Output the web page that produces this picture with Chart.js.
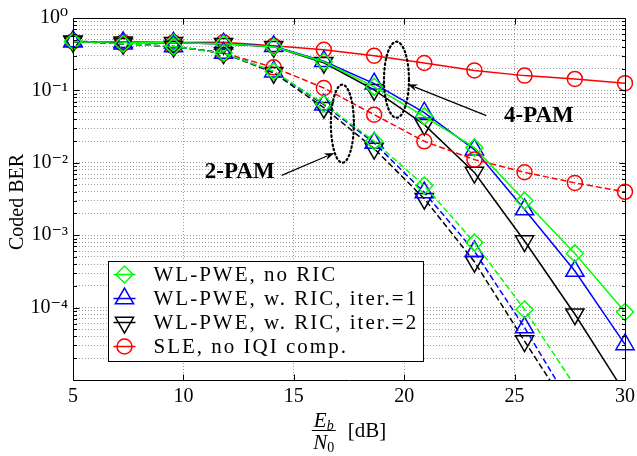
<!DOCTYPE html>
<html><head><meta charset="utf-8">
<script src="https://cdn.jsdelivr.net/npm/chart.js@4"></script>
<style>html,body{margin:0;padding:0;background:#fff}#wrap{width:637px;height:456px;position:relative}</style>
</head><body><div id="wrap"><canvas id="c"></canvas></div>
<script>
// ---- data ----
const ebn0 = [5, 7.27, 9.55, 11.82, 14.09, 16.36, 18.64, 20.91, 23.18, 25.45, 27.73, 30];
// 4-PAM (solid)
const pam4_noRIC = [0.474, 0.462, 0.455, 0.441, 0.401, 0.249, 0.112, 0.0438, 0.0162, 0.00300, 5.6e-4, 8.7e-5];
const pam4_RIC1  = [0.474, 0.462, 0.455, 0.441, 0.407, 0.253, 0.124, 0.0492, 0.0152, 0.00226, 3.2e-4, 3.1e-5];
const pam4_RIC2  = [0.474, 0.462, 0.455, 0.441, 0.401, 0.241, 0.102, 0.0336, 0.00733, 8.3e-4, 8.1e-5, 6.6e-6];
const pam4_SLE   = [0.474, 0.462, 0.459, 0.462, 0.414, 0.364, 0.301, 0.239, 0.189, 0.160, 0.144, 0.126];
// 2-PAM (dashed)
const pam2_noRIC = [0.474, 0.441, 0.405, 0.328, 0.183, 0.0655, 0.0198, 0.00485, 7.9e-4, 9.4e-5, 8.3e-6, null];
const pam2_RIC1  = [0.474, 0.441, 0.405, 0.328, 0.181, 0.0635, 0.0188, 0.00388, 6.0e-4, 5.3e-5, 3.7e-6, null];
const pam2_RIC2  = [0.474, 0.441, 0.405, 0.328, 0.175, 0.0577, 0.0157, 0.00320, 4.3e-4, 3.45e-5, 2.9e-6, null];
const pam2_SLE   = [0.474, 0.441, 0.405, 0.328, 0.208, 0.108, 0.0462, 0.0198, 0.01107, 0.0074, 0.00528, 0.00397];
const xTicks = [5, 10, 15, 20, 25, 30];
const yDecades = [1e-5, 1e-4, 1e-3, 1e-2, 1e-1, 1];
const yLabels = ['', '10\u207B\u2074', '10\u207B\u00B3', '10\u207B\u00B2', '10\u207B\u00B9', '10\u2070'];
const yTitle = 'Coded BER';
const legendLabels = ['WL-PWE, no RIC', 'WL-PWE, w. RIC, iter.=1', 'WL-PWE, w. RIC, iter.=2', 'SLE, no IQI comp.'];
const noteTexts = ['2-PAM', '4-PAM'];

// ---- styles ----
const SERIF = '"Liberation Serif", "DejaVu Serif", serif';
const GREEN = '#00ff00', BLUE = '#0000ff', BLACK = '#000000', RED = '#ff0000';
const YMIN = 1e-5, YMAX = 1;
const markers = [
  {style: 'rectRot', rot: 0, r: 8.5, color: GREEN},
  {style: 'triangle', rot: 0, r: 10.5, color: BLUE},
  {style: 'triangle', rot: 180, r: 10.5, color: BLACK},
  {style: 'circle', rot: 0, r: 7.5, color: RED}
];
function ds(values, m, dashed) {
  const rad = c => (c.raw && c.raw.y !== null && c.raw.y < YMIN) ? 0 : m.r;
  return {
    data: ebn0.map((x, i) => ({x: x, y: values[i]})),
    borderColor: m.color, backgroundColor: 'rgba(0,0,0,0)',
    borderWidth: 1.5, borderDash: dashed ? [6, 3] : [],
    pointStyle: m.style, pointRotation: m.rot, pointRadius: rad, pointHoverRadius: rad,
    pointBorderWidth: 1.5, pointBorderColor: m.color, pointBackgroundColor: 'rgba(0,0,0,0)',
    tension: 0, fill: false, spanGaps: false,
    clip: {left: 20, top: 20, right: 20, bottom: 0}
  };
}
const datasets = [
  ds(pam2_noRIC, markers[0], true), ds(pam2_RIC1, markers[1], true), ds(pam2_RIC2, markers[2], true), ds(pam2_SLE, markers[3], true),
  ds(pam4_noRIC, markers[0], false), ds(pam4_RIC1, markers[1], false), ds(pam4_RIC2, markers[2], false), ds(pam4_SLE, markers[3], false)
];

// annotation anchors in data coordinates
const notes = {
  ell2: {x: 17.2, y: 0.0347, rx: 11.5, ry: 39},
  ell4: {x: 19.65, y: 0.1405, rx: 12.5, ry: 38},
  text2: {x: 12.55, y: 0.0074},
  text4: {x: 26.1, y: 0.0447},
  arrow2: {x1: 14.45, y1: 0.0067, x2: 16.84, y2: 0.0137},
  arrow4: {x1: 23.72, y1: 0.0448, x2: 20.15, y2: 0.122}
};

function isDecade(v) { const l = Math.log10(v); return Math.abs(l - Math.round(l)) < 1e-6; }
const gridColor = 'rgba(0,0,0,0.38)';
function noPad(s) { s.paddingLeft = 0; s.paddingRight = 0; s.paddingTop = 0; s.paddingBottom = 0; }

const framePlugin = {
  id: 'frame',
  afterDatasetsDraw(chart) {
    const ctx = chart.ctx, a = chart.chartArea, xs = chart.scales.x, ys = chart.scales.y;
    ctx.save();
    ctx.strokeStyle = '#000'; ctx.lineWidth = 1; ctx.setLineDash([]);
    const L = Math.round(a.left) + 0.5, R = Math.round(a.right) + 0.5, T = Math.round(a.top) + 0.5, B = Math.round(a.bottom) + 0.5;
    ctx.beginPath(); ctx.rect(L, T, R - L, B - T); ctx.stroke();
    ctx.beginPath();
    xTicks.forEach(v => {
      if (v === xs.min || v === xs.max) return;
      const px = Math.round(xs.getPixelForValue(v)) + 0.5;
      ctx.moveTo(px, B); ctx.lineTo(px, B - 6);
      ctx.moveTo(px, T); ctx.lineTo(px, T + 6);
    });
    ys.ticks.forEach(t => {
      const py = Math.round(ys.getPixelForValue(t.value)) + 0.5;
      const len = isDecade(t.value) ? 6 : 3.5;
      ctx.moveTo(L, py); ctx.lineTo(L + len, py);
      ctx.moveTo(R, py); ctx.lineTo(R - len, py);
    });
    ctx.stroke();
    ctx.restore();
  },
  afterDraw(chart) {
    const ctx = chart.ctx, a = chart.chartArea, xs = chart.scales.x, ys = chart.scales.y;
    const X = v => xs.getPixelForValue(v), Y = v => ys.getPixelForValue(v);
    ctx.save();
    // dotted ellipses
    ctx.strokeStyle = '#000'; ctx.lineWidth = 2.2; ctx.setLineDash([1.5, 3]); ctx.lineCap = 'round';
    [notes.ell2, notes.ell4].forEach(e => {
      ctx.beginPath(); ctx.ellipse(X(e.x), Y(e.y), e.rx, e.ry, 0, 0, Math.PI * 2); ctx.stroke();
    });
    ctx.setLineDash([]); ctx.lineCap = 'butt';
    // arrows
    [notes.arrow2, notes.arrow4].forEach(ar => {
      const x1 = X(ar.x1), y1 = Y(ar.y1), x2 = X(ar.x2), y2 = Y(ar.y2);
      const ang = Math.atan2(y2 - y1, x2 - x1), hl = 10, hw = 3.5;
      ctx.lineWidth = 1.2; ctx.strokeStyle = '#000'; ctx.fillStyle = '#000';
      ctx.beginPath(); ctx.moveTo(x1, y1); ctx.lineTo(x2 - Math.cos(ang) * hl * 0.8, y2 - Math.sin(ang) * hl * 0.8); ctx.stroke();
      ctx.beginPath();
      ctx.moveTo(x2, y2);
      ctx.lineTo(x2 - Math.cos(ang) * hl - Math.sin(ang) * hw, y2 - Math.sin(ang) * hl + Math.cos(ang) * hw);
      ctx.lineTo(x2 - Math.cos(ang) * hl * 0.7, y2 - Math.sin(ang) * hl * 0.7);
      ctx.lineTo(x2 - Math.cos(ang) * hl + Math.sin(ang) * hw, y2 - Math.sin(ang) * hl - Math.cos(ang) * hw);
      ctx.closePath(); ctx.fill();
    });
    // notes text
    ctx.font = 'bold 23px ' + SERIF; ctx.fillStyle = '#000'; ctx.textAlign = 'center'; ctx.textBaseline = 'middle';
    ctx.fillText(noteTexts[0], X(notes.text2.x), Y(notes.text2.y));
    ctx.fillText(noteTexts[1], X(notes.text4.x), Y(notes.text4.y));

    // y-axis title (rotated)
    ctx.save();
    ctx.font = '20px ' + SERIF; ctx.textAlign = 'center'; ctx.textBaseline = 'middle';
    ctx.translate(a.left - 55, (a.top + a.bottom) / 2 + 3);
    ctx.rotate(-Math.PI / 2);
    ctx.fillText(yTitle, 0, 0);
    ctx.restore();

    // legend
    ctx.font = '21px ' + SERIF; ctx.textAlign = 'left';
    try { ctx.letterSpacing = '2px'; } catch (e) {}
    const tw = Math.max(...legendLabels.map(s => ctx.measureText(s).width));
    const lx = Math.round(a.left + 35) + 0.5, lh = 100, lw = Math.round(45 + tw + 5);
    const ly = Math.round(a.bottom - 19 - lh) + 0.5;
    ctx.fillStyle = '#fff'; ctx.fillRect(lx, ly, lw, lh);
    ctx.strokeStyle = '#000'; ctx.lineWidth = 1; ctx.strokeRect(lx, ly, lw, lh);
    legendLabels.forEach((s, i) => {
      const cy = ly + 13 + i * 24, m = markers[i];
      ctx.strokeStyle = m.color; ctx.lineWidth = 1.5;
      ctx.beginPath(); ctx.moveTo(lx + 5, cy); ctx.lineTo(lx + 27, cy); ctx.stroke();
      ctx.fillStyle = 'rgba(0,0,0,0)';
      Chart.helpers.drawPoint(ctx, {pointStyle: m.style, rotation: m.rot, radius: m.r, borderWidth: 1.5}, lx + 16, cy);
      ctx.fillStyle = '#000'; ctx.textBaseline = 'middle';
      ctx.fillText(s, lx + 45, cy + 1);
    });
    try { ctx.letterSpacing = '0px'; } catch (e) {}

    // x-axis title: E_b / N_0 [dB]
    const cx = (a.left + a.right) / 2;
    ctx.textBaseline = 'alphabetic'; ctx.fillStyle = '#000'; ctx.textAlign = 'left';
    const fMain = 'italic 21px ' + SERIF, fSub = 'italic 14px ' + SERIF, fSub0 = '14px ' + SERIF, fUp = '21px ' + SERIF;
    ctx.font = fMain; const wE = ctx.measureText('E').width, wN = ctx.measureText('N').width;
    ctx.font = fSub; const wb = ctx.measureText('b').width;
    ctx.font = fSub0; const w0 = ctx.measureText('0').width;
    ctx.font = fUp; const wdB = ctx.measureText('[dB]').width;
    const fw = Math.max(wE + wb, wN + w0) + 3, gap = 12;
    const x0 = cx - (fw + gap + wdB) / 2;
    const barY = a.bottom + 50.5;
    const nx = x0 + (fw - (wE + wb)) / 2, dx = x0 + (fw - (wN + w0)) / 2;
    ctx.font = fMain; ctx.fillText('E', nx, barY - 4);
    ctx.font = fSub; ctx.fillText('b', nx + wE, barY - 1);
    ctx.font = fMain; ctx.fillText('N', dx, barY + 18);
    ctx.font = fSub0; ctx.fillText('0', dx + wN, barY + 21);
    ctx.strokeStyle = '#000'; ctx.lineWidth = 1;
    ctx.beginPath(); ctx.moveTo(x0, barY); ctx.lineTo(x0 + fw, barY); ctx.stroke();
    ctx.font = fUp; ctx.fillText('[dB]', x0 + fw + gap, barY + 6);
    ctx.restore();
  }
};

new Chart(document.getElementById('c'), {
  type: 'line',
  data: {datasets: datasets},
  options: {
    responsive: true, maintainAspectRatio: false, animation: false,
    layout: {padding: {left: 0, right: 11, top: 18, bottom: 0}},
    plugins: {legend: {display: false}, tooltip: {enabled: false}, title: {display: false}},
    events: [],
    scales: {
      x: {
        type: 'linear', min: 5, max: 30,
        afterBuildTicks: s => { s.ticks = xTicks.map(v => ({value: v})); },
        afterFit: s => { s.height = 76; noPad(s); },
        grid: {drawTicks: false, lineWidth: 1, color: c => (c.tick && (c.tick.value === 5 || c.tick.value === 30)) ? 'rgba(0,0,0,0)' : gridColor},
        border: {display: false, dash: [1, 2]},
        ticks: {color: '#000', font: {family: SERIF, size: 20}, padding: 5, maxRotation: 0, autoSkip: false},
        title: {display: false}
      },
      y: {
        type: 'logarithmic', min: YMIN, max: YMAX,
        afterBuildTicks: s => {
          const t = [];
          yDecades.forEach(d => { for (let k = 1; k <= 9; k++) { const v = d * k; if (v <= 1 + 1e-12) t.push({value: v, major: k === 1}); } });
          s.ticks = t.filter((o, i, arr) => arr.findIndex(p => Math.abs(p.value - o.value) < 1e-15) === i);
        },
        afterFit: s => { s.width = 73; noPad(s); },
        grid: {drawTicks: false, lineWidth: 1, color: c => (c.tick && (Math.abs(c.tick.value - 1) < 1e-9 || Math.abs(c.tick.value - 1e-5) < 1e-18)) ? 'rgba(0,0,0,0)' : gridColor},
        border: {display: false, dash: [1, 2]},
        ticks: {
          color: '#000', font: {family: SERIF, size: 20}, padding: 5, autoSkip: false,
          callback: v => { const i = yDecades.findIndex(d => Math.abs(Math.log10(d) - Math.log10(v)) < 1e-6); return i >= 0 ? yLabels[i] : ''; }
        },
        title: {display: false}
      }
    }
  },
  plugins: [framePlugin]
});
</script>
</body></html>
